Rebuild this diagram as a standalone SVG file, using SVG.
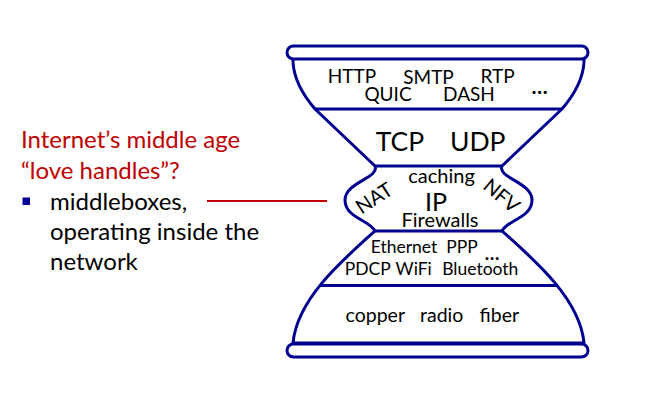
<svg xmlns="http://www.w3.org/2000/svg" width="667" height="400" viewBox="0 0 667 400">
<style>
.t{font-family:Lato,"Liberation Sans",sans-serif;fill:#000;text-anchor:middle}
.el{font-weight:bold}
.ol{fill:none;stroke:#000090;stroke-width:3}
.red{font-family:Lato,"Liberation Sans",sans-serif;fill:#C00000;font-size:24px}
.blk{font-family:Lato,"Liberation Sans",sans-serif;fill:#000;font-size:24px}
</style>
<rect width="667" height="400" fill="#fff"/>
<g id="hourglass">
<path d="M293,58 L293,62 C294,80 303,95 315,109 L375,166 C380,178 345,182 345,200 C345,218 370,220 375,231 C340,262 297,300 293,343 L584,343 C580,300 537,262 502,231 C507,220 532,218 532,200 C532,182 497,178 502,166 L562,109 C574,95 583,80 584,62 L584,58 Z" fill="#fff" stroke="#000090" stroke-width="3" stroke-linejoin="round"/>
<rect x="287" y="46" width="301" height="13" rx="6.5" fill="#fff" stroke="#000090" stroke-width="3"/>
<rect x="287" y="344" width="301" height="13" rx="6.5" fill="#fff" stroke="#000090" stroke-width="3"/>
</g>
<g id="dividers">
<line class="ol" x1="315" y1="109" x2="562" y2="109"/>
<line class="ol" x1="375" y1="166" x2="502" y2="166"/>
<line class="ol" x1="375" y1="231" x2="502" y2="231"/>
<line class="ol" x1="319" y1="285.5" x2="558" y2="285.5"/>
</g>
<g id="application" class="t" font-size="19">
<text x="352" y="83">HTTP</text>
<text x="428.5" y="84">SMTP</text>
<text x="497.5" y="83">RTP</text>
<text x="388" y="101">QUIC</text>
<text x="469" y="101">DASH</text>
<text class="el" x="539.5" y="94" font-size="21">…</text>
</g>
<g id="transport" class="t" font-size="26.5">
<text x="400" y="151">TCP</text>
<text x="477.7" y="151">UDP</text>
</g>
<g id="network" class="t" font-size="20">
<text x="441.5" y="183">caching</text>
<text x="436" y="210.5" font-size="25">IP</text>
<text x="440" y="227">Firewalls</text>
<text transform="translate(378,204) rotate(-33)">NAT</text>
<text transform="translate(497,201) rotate(40)">NFV</text>
</g>
<g id="link" class="t" font-size="17.5">
<text x="404" y="253">Ethernet</text>
<text x="462" y="253">PPP</text>
<text class="el" x="492" y="260" font-size="19">…</text>
<text x="367.7" y="275">PDCP</text>
<text x="413.7" y="275">WiFi</text>
<text x="480.3" y="275">Bluetooth</text>
</g>
<g id="physical" class="t" font-size="19.5">
<text x="375.3" y="322">copper</text>
<text x="441.7" y="322">radio</text>
<text x="499.3" y="322">fiber</text>
</g>
<g id="caption">
<text class="red" x="21" y="148">Internet’s middle age</text>
<text class="red" x="21" y="179">“love handles”?</text>
<rect x="22.5" y="197.5" width="7.5" height="7.5" fill="#000099"/>
<text class="blk" x="50" y="210">middleboxes,</text>
<text class="blk" x="50" y="240">operating inside the</text>
<text class="blk" x="50" y="270">network</text>
</g>
<g id="connectors">
<line x1="207" y1="201" x2="327" y2="201" stroke="#C00000" stroke-width="2"/>
</g>
</svg>
